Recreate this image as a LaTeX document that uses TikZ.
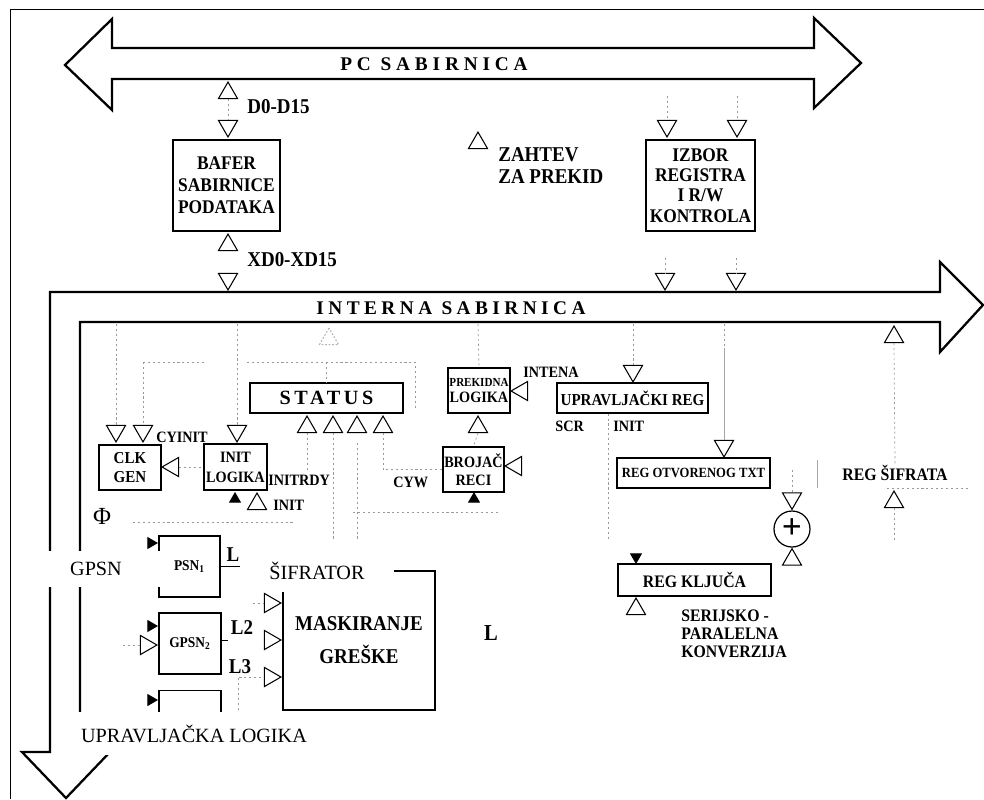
\documentclass[tikz,border=0pt]{standalone}
\usepackage{fontspec}
\setmainfont{Liberation Serif}
\newfontfamily\narrowbf[FakeStretch=0.9]{Liberation Serif}
\usetikzlibrary{shapes.geometric}

\begin{document}
\begin{tikzpicture}[x=0.02cm,y=-0.02cm,
    tri/.style={draw,regular polygon,regular polygon sides=3,inner sep=0pt,
      minimum size=0.44cm,line width=0.6pt,anchor=corner 1},
    tup/.style={tri},
    tdn/.style={tri,shape border rotate=180},
    tlt/.style={tri,shape border rotate=90},
    trt/.style={tri,shape border rotate=270},
    puni/.style={fill=black,minimum size=0.24cm},
    blok/.style={draw,line width=0.7pt,inner sep=0pt,align=center},
    txt/.style={inner sep=0pt,align=left},
    veza/.style={gray!80,line width=0.4pt,dash pattern=on 1.2pt off 1.6pt},
    sabirnica/.style={line width=1.3pt,line join=miter},
    prekrij/.style={fill=white,inner sep=0pt,font=\fontsize{11.5}{12}\selectfont}]

  \useasboundingbox (0,0) rectangle (984,799);
  \draw[line width=0.5pt] (984,9) -- (10,9) -- (10,799);

  % PC sabirnica
  \draw[sabirnica] (65,65) -- (112,19) -- (112,48) -- (814,48) -- (814,18)
    -- (861,63) -- (814,108) -- (814,79) -- (112,79) -- (112,110) -- cycle;
  \node[font=\bfseries\fontsize{11}{11}\selectfont\addfontfeature{LetterSpace=25}] (pcbus) at (434,64) {PC SABIRNICA};

  % interna sabirnica
  \draw[sabirnica] (22,752) -- (50,752) -- (50,292) -- (940,292) -- (940,262)
    -- (983,305) -- (940,352) -- (940,322) -- (80,322) -- (80,752) -- (110,752)
    -- (66,798) -- cycle;
  \node[font=\bfseries\fontsize{11}{11}\selectfont\addfontfeature{LetterSpace=23}] (intbus) at (451,308) {INTERNA SABIRNICA};

  % bafer
  \node[blok,minimum width=2.14cm,minimum height=1.82cm,
    font=\narrowbf\bfseries\fontsize{11}{12.5}\selectfont] (bafer) at (226.5,185.5) {BAFER\\SABIRNICE\\PODATAKA};
  \node[tup] (d0up) at (228,81) {};
  \node[tdn] (d0dn) at (228,138) {};
  \draw[veza] (d0up.side 2) -- (d0dn.side 2);
  \node[txt,anchor=west,font=\narrowbf\bfseries\fontsize{12}{12}\selectfont] (d0) at (247,107) {D0-D15};
  \node[tup] (xdup) at (228,233) {};
  \node[tdn] (xddn) at (228,291) {};
  \node[txt,anchor=west,font=\narrowbf\bfseries\fontsize{12}{12}\selectfont] (xd0) at (247,260) {XD0-XD15};

  \node[tup] (zah) at (478,131) {};
  \node[txt,anchor=west,font=\narrowbf\bfseries\fontsize{12}{12.5}\selectfont] (zahtev) at (498,166) {ZAHTEV\\ZA PREKID};

  % izbor registra
  \node[blok,minimum width=2.18cm,minimum height=1.82cm,
    font=\narrowbf\bfseries\fontsize{11}{11.5}\selectfont] (izbor) at (700.5,185.5) {IZBOR\\REGISTRA\\I R/W\\KONTROLA};
  \foreach \x/\n in {667/1,737/2}{
    \coordinate (iz\n a) at (\x,96);
    \node[tdn] (iz\n) at (\x,138) {};
    \draw[veza] (iz\n a) -- (iz\n.side 2);
  }
  \foreach \x/\n in {665/3,736/4}{
    \coordinate (iz\n a) at (\x,258);
    \node[tdn] (iz\n) at (\x,291) {};
    \draw[veza] (iz\n a) -- (iz\n.side 2);
  }

  % reg sifrata
  \node[tup] (sif1) at (894,325) {};
  \node[txt,font=\narrowbf\bfseries\fontsize{10}{10}\selectfont] (sifrat) at (895,473) {REG ŠIFRATA};
  \node[tup] (sif2) at (894,490) {};
  \coordinate (sif2a) at (894,540);
  \draw[veza] (sif1.side 2) -- (sifrat.north);
  \draw[veza] (sif2.side 2) -- (sif2a);
  \draw[veza] (887,488) -- (970,488);
  \draw[gray!70] (817,460) -- (817,488);

  % status
  \node[blok,minimum width=3.06cm,minimum height=0.6cm,
    font=\bfseries\fontsize{11.5}{11.5}\selectfont\addfontfeature{LetterSpace=18}] (status) at (326.5,398) {STATUS};
  \foreach \x [count=\i] in {307,333,357,383}
    \node[tup] (st\i) at (\x,415) {};
  \node[tup,gray!60,dash pattern=on 1pt off 1pt] (stf) at (329,327) {};
  \coordinate (s1) at (143,362);
  \coordinate (s2) at (205,362);
  \coordinate (s3) at (247,362);
  \coordinate (s4) at (415,362);
  \draw[veza] (s1) -- (s2);
  \draw[veza] (s3) -- (s4) -- (415,410);
  \draw[veza] (status.north |- s3) -- (status.north);

  % clk gen i init logika
  \node[blok,minimum width=1.24cm,minimum height=0.9cm,
    font=\narrowbf\bfseries\fontsize{9.5}{11.3}\selectfont] (clk) at (130,467.5) {CLK\\GEN};
  \node[tdn] (ck1) at (116,443) {};
  \node[tdn] (ck2) at (143,443) {};
  \draw[veza] (116,324) -- (ck1.side 2);
  \draw[veza] (s1) -- (ck2.side 2);
  \node[txt,anchor=west,font=\narrowbf\bfseries\fontsize{9}{9}\selectfont] (cyinit) at (156,437) {CYINIT};
  \node[tlt] (clkin) at (161,467) {};
  \node[blok,minimum width=1.26cm,minimum height=0.92cm,
    font=\narrowbf\bfseries\fontsize{9}{11.3}\selectfont] (initl) at (235.5,467) {INIT\\LOGIKA};
  \draw[veza] (clkin.side 2) -- (initl.west);
  \node[tdn] (in1) at (237,443) {};
  \draw[veza] (237,324) -- (in1.side 2);
  \node[tup,puni] (inf) at (235,492) {};
  \node[tup] (init) at (257,492) {};
  \node[txt,anchor=west,font=\narrowbf\bfseries\fontsize{9}{9}\selectfont] (initrdy) at (268,480) {INITRDY};
  \node[txt,anchor=west,font=\narrowbf\bfseries\fontsize{9}{9}\selectfont] (initlb) at (273,505) {INIT};
  \node[font=\fontsize{14}{14}\selectfont,inner sep=0pt] (phi) at (102,516) {Φ};
  \draw[veza] (st1.side 2) -- (307,470);
  \draw[veza] (st2.side 2) -- (333,540);
  \draw[veza] (357,443) -- (357,540);
  \draw[veza] (133,522) -- (293,522);
  \draw[veza] (353,512) -- (500,512);

  % prekidna logika i brojac
  \node[blok,minimum width=1.24cm,minimum height=0.9cm,
    font=\narrowbf\bfseries\fontsize{9}{9}\selectfont] (prek) at (479,390.5) {{\fontsize{7}{9}\selectfont PREKIDNA}\\LOGIKA};
  \draw[veza] (478,324) -- (prek.north);
  \node[tlt] (intena) at (510,391) {};
  \node[txt,anchor=west,font=\narrowbf\bfseries\fontsize{9}{9}\selectfont] (intlb) at (523,372) {INTENA};
  \node[tup] (prku) at (478,415) {};
  \node[blok,minimum width=1.22cm,minimum height=0.9cm,
    font=\narrowbf\bfseries\fontsize{9}{10.2}\selectfont] (broj) at (473.5,469.5) {BROJAČ\\RECI};
  \draw[veza] (prku.side 2) -- (broj.north);
  \draw[veza] (st4.side 2) |- (broj.west);
  \node[tlt] (brin) at (504,466) {};
  \node[tup,puni] (brf) at (474,492) {};
  \node[txt,anchor=west,font=\narrowbf\bfseries\fontsize{9}{9}\selectfont] (cyw) at (393,482) {CYW};

  % upravljacki reg
  \node[blok,minimum width=3.02cm,minimum height=0.6cm,
    font=\narrowbf\bfseries\fontsize{9.5}{10}\selectfont] (upr) at (632.5,398) {UPRAVLJAČKI REG};
  \node[tdn] (uprin) at (633,383) {};
  \draw[veza] (633,324) -- (uprin.side 2);
  \node[txt,anchor=west,font=\narrowbf\bfseries\fontsize{9}{9}\selectfont] (scr) at (555,426) {SCR};
  \node[txt,anchor=west,font=\narrowbf\bfseries\fontsize{9}{9}\selectfont] (uinit) at (613,426) {INIT};
  \draw[veza] (upr.south -| 608,0) -- (608,540);

  % reg otvorenog txt, xor, reg kljuca
  \node[blok,minimum width=3.06cm,minimum height=0.6cm,
    font=\narrowbf\bfseries\fontsize{8}{9}\selectfont] (otv) at (693.5,473) {REG OTVORENOG TXT};
  \node[tdn] (otvin) at (724,458) {};
  \draw[veza] (724,324) -- (724,348);
  \draw[gray!70] (724,348) -- (otvin.side 2);
  \node[draw,circle,minimum size=0.72cm,inner sep=0pt,line width=0.7pt,
    font=\bfseries\fontsize{20}{20}\selectfont] (xor) at (792,529) {+};
  \node[tdn] (xor1) at (xor.north) {};
  \node[tup] (xor2) at (xor.south) {};
  \draw[veza] (792,470) -- (xor1.side 2);
  \node[blok,minimum width=3.06cm,minimum height=0.64cm,
    font=\narrowbf\bfseries\fontsize{10}{10}\selectfont] (klj) at (694.5,580) {REG KLJUČA};
  \node[tdn,puni] (kljf) at (636,564) {};
  \node[tup] (klj2) at (636,597) {};
  \node[txt,anchor=north west,font=\narrowbf\bfseries\fontsize{10}{10.2}\selectfont] (serij) at (681,610) {SERIJSKO -\\PARALELNA\\KONVERZIJA};
  \node[txt,font=\narrowbf\bfseries\fontsize{13}{13}\selectfont] (bigl) at (491,633) {L};

  % generatori i maskiranje greske
  \node[blok,minimum width=1.22cm,minimum height=1.22cm,
    font=\narrowbf\bfseries\fontsize{8.5}{8.5}\selectfont] (psn1) at (189.5,566.5) {PSN\textsubscript{1}};
  \node[trt,puni] (p1f) at (158,543) {};
  \coordinate (p1e) at (240,566.5);
  \draw (psn1.east) -- (p1e);
  \node[txt,font=\narrowbf\bfseries\fontsize{12}{12}\selectfont] (l1) at (233,555) {L};
  \node[blok,minimum width=1.24cm,minimum height=1.22cm,
    font=\narrowbf\bfseries\fontsize{8.5}{8.5}\selectfont] (gpsn2) at (190,643.5) {GPSN\textsubscript{2}};
  \node[trt,puni] (g2f) at (158,626) {};
  \node[trt] (g2in) at (158,645) {};
  \coordinate (g2a) at (123,645);
  \draw[veza] (g2a) -- (g2in.side 2);
  \coordinate (g2e) at (228,640);
  \draw (gpsn2.east |- g2e) -- (g2e);
  \node[txt,font=\narrowbf\bfseries\fontsize{12}{12}\selectfont] (l2) at (242,628) {L2};
  \node[txt,font=\narrowbf\bfseries\fontsize{12}{12}\selectfont] (l3) at (240,667) {L3};
  \node[blok,minimum width=1.24cm,minimum height=1.22cm] (psn3) at (190,721) {};
  \node[trt,puni] (p3f) at (158,700) {};
  \node[blok,minimum width=3.04cm,minimum height=2.78cm,
    font=\narrowbf\bfseries\fontsize{12}{18.7}\selectfont] (mask) at (359,640.5) {MASKIRANJE\\GREŠKE};
  \foreach \y [count=\i] in {603,640,677}
    \node[trt] (m\i) at (282,\y) {};
  \coordinate (m1a) at (253,603);
  \coordinate (m3a) at (238,710);
  \draw[veza] (m1a) -- (m1.side 2);
  \draw[veza] (m3a) |- (m3.side 2);

  % natpisi preko slike
  \node[prekrij,minimum width=3.04cm,minimum height=0.72cm] (gpsn) at (96,569) {GPSN};
  \node[prekrij,minimum width=3.1cm,minimum height=0.84cm] (sifr) at (317,571) {ŠIFRATOR};
  \node[prekrij,minimum width=5.44cm,minimum height=0.86cm] (uprl) at (194,733.5) {UPRAVLJAČKA LOGIKA};
\end{tikzpicture}
\end{document}
